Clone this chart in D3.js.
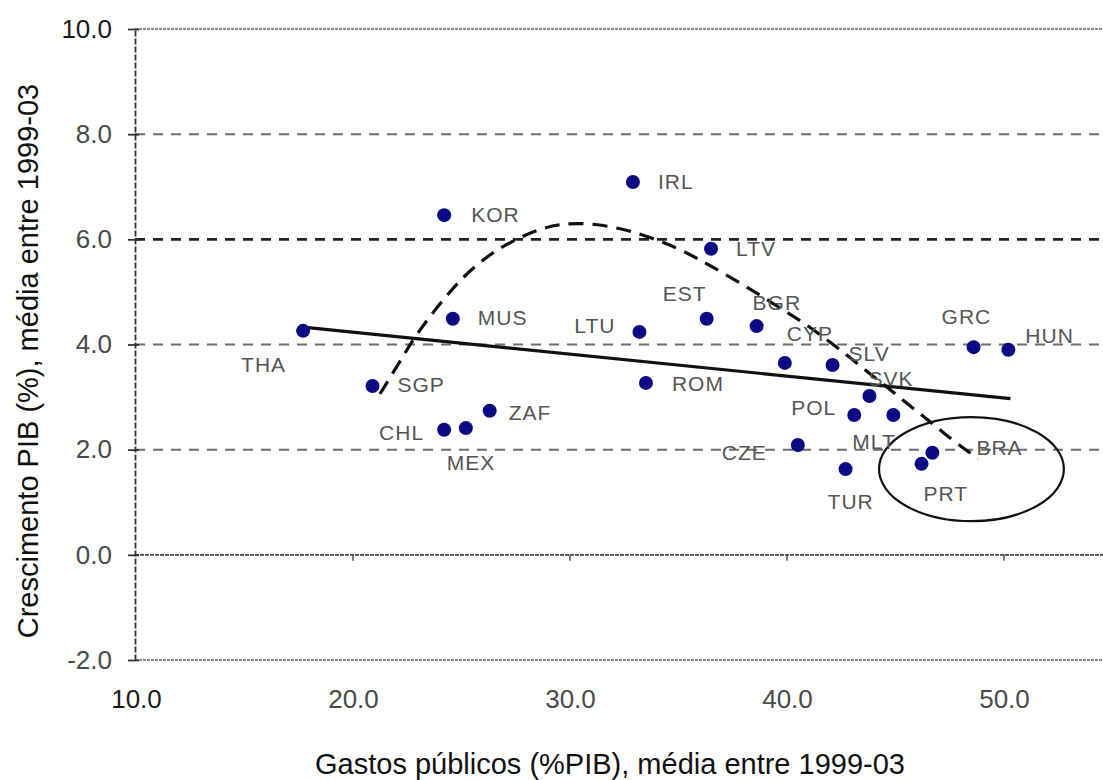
<!DOCTYPE html>
<html>
<head>
<meta charset="utf-8">
<script src="https://cdn.jsdelivr.net/npm/d3@7"></script>
<style>
  html, body { margin: 0; padding: 0; background: #ffffff; }
  svg { display: block; font-family: "Liberation Sans", Arial, sans-serif; }
</style>
</head>
<body>
<script>
// ---------------- DATA ----------------
const countries = ["THA","SGP","KOR","MUS","CHL","MEX","ZAF","IRL","LTU","ROM","EST","LTV","BGR","CYP","SLV","SVK","POL","MLT","CZE","TUR","PRT","BRA","GRC","HUN"];
const gastosPublicos = [17.7, 20.9, 24.2, 24.6, 24.2, 25.2, 26.3, 32.9, 33.2, 33.5, 36.3, 36.5, 38.6, 39.9, 42.1, 43.8, 43.1, 44.9, 40.5, 42.7, 46.2, 46.7, 48.6, 50.2];
const crescimentoPIB = [4.26, 3.21, 6.46, 4.49, 2.38, 2.41, 2.74, 7.09, 4.24, 3.27, 4.49, 5.82, 4.35, 3.65, 3.61, 3.02, 2.66, 2.66, 2.09, 1.63, 1.73, 1.94, 3.95, 3.90];

const xTicks = [10, 20, 30, 40, 50];
const yTicks = [-2, 0, 2, 4, 6, 8, 10];
const gridValues = [2, 4, 6, 8];

// linear trend (solid line)
const trendX = [17.7, 50.3];
const trendY = [4.33, 2.97];

// curved trend (dashed)
const curveX = [21.24, 22.07, 22.76, 23.46, 24.33, 25.16, 26.18, 27.24, 28.48, 29.54, 30.92, 32.44, 33.69, 34.93, 35.99, 37.05, 38.29, 39.35, 40.60, 41.52, 42.58, 43.50, 44.61, 45.67, 46.73, 47.65, 48.80];
const curveY = [3.06, 3.61, 4.09, 4.49, 4.94, 5.32, 5.68, 5.95, 6.18, 6.30, 6.31, 6.20, 6.04, 5.84, 5.61, 5.36, 5.06, 4.78, 4.46, 4.19, 3.86, 3.55, 3.19, 2.83, 2.49, 2.17, 1.83];

// highlight ellipse (centre and radii in data units)
const ellipseCenter = [48.5, 1.63];
const ellipseRadii = [4.26, 0.99];

const xTitle = "Gastos públicos (%PIB), média entre 1999-03";
const yTitle = "Crescimento PIB (%), média entre 1999-03";

// ---------------- LAYOUT ----------------
const W = 1103, H = 780;
const labelPos = {
  THA: [-62, 41, "start"], SGP: [25, 6, "start"], KOR: [27, 7, "start"], MUS: [25, 6, "start"],
  CHL: [-20, 10, "end"], MEX: [-19, 42, "start"], ZAF: [19, 9, "start"], IRL: [25, 7, "start"],
  LTU: [-24, 1, "end"], ROM: [26, 8, "start"], EST: [-44, -18, "start"], LTV: [25, 7, "start"],
  BGR: [-4, -16, "start"], CYP: [2, -22, "start"], SLV: [16, -4, "start"], SVK: [-1, -10, "start"],
  POL: [-18, 0, "end"], MLT: [-41, 34, "start"], CZE: [-31, 15, "end"], TUR: [-18, 40, "start"],
  PRT: [2, 37, "start"], BRA: [44, 2, "start"], GRC: [-32, -23, "start"], HUN: [17, -7, "start"]
};

const x = d3.scaleLinear().domain([10, 55]).range([136, 136 + 45 * 21.7]);
const y = d3.scaleLinear().domain([-2, 10]).range([660, 29]);
const axisX = 135;

const svg = d3.select("body").append("svg").attr("width", W).attr("height", H);

// frame lines top (10) and bottom (-2)
[10, -2].forEach(v => {
  svg.append("line").attr("x1", axisX).attr("x2", W).attr("y1", y(v)).attr("y2", y(v))
    .attr("stroke", "#8a8a8a").attr("stroke-width", 1.8).attr("stroke-dasharray", "3,1");
});

// dashed gridlines
svg.append("g").selectAll("line").data(gridValues).join("line")
  .attr("x1", axisX).attr("x2", W)
  .attr("y1", d => y(d)).attr("y2", d => y(d))
  .attr("stroke", d => d === 6 ? "#222" : "#6e6e6e")
  .attr("stroke-width", d => d === 6 ? 2.6 : 2)
  .attr("stroke-dasharray", "10,8");

// zero line (x axis crossing)
svg.append("line").attr("x1", axisX).attr("x2", W).attr("y1", y(0)).attr("y2", y(0))
  .attr("stroke", "#444").attr("stroke-width", 1.6).attr("stroke-dasharray", "4,1");
svg.append("g").selectAll("line").data(xTicks.filter(d => d > 10)).join("line")
  .attr("x1", d => x(d)).attr("x2", d => x(d)).attr("y1", y(0)).attr("y2", y(0) + 6)
  .attr("stroke", "#444").attr("stroke-width", 1.4);

// Y axis
const yAxis = svg.append("g").attr("transform", `translate(${axisX},0)`)
  .call(d3.axisLeft(y).tickValues(yTicks).tickFormat(d => d.toFixed(1)).tickSize(7).tickSizeOuter(0).tickPadding(16));
yAxis.select(".domain").attr("stroke", "#333").attr("stroke-width", 1.8).attr("stroke-dasharray", "6,2");
yAxis.selectAll(".tick line").attr("stroke", "#333").attr("stroke-width", 1.8).attr("x2", 4).attr("x1", -7);
yAxis.selectAll(".tick text").attr("font-size", 26).attr("fill", d => d === 10 ? "#1a1a1a" : "#4a4a4a")
  .attr("font-family", "Liberation Sans, Arial, sans-serif");

// X axis labels (bottom)
const xAxis = svg.append("g").attr("transform", `translate(0,${y(-2)})`)
  .call(d3.axisBottom(x).tickValues(xTicks).tickFormat(d => d.toFixed(1)).tickSize(0).tickPadding(30));
xAxis.select(".domain").remove();
xAxis.selectAll(".tick text").attr("font-size", 26).attr("fill", d => d === 10 ? "#1a1a1a" : "#4a4a4a")
  .attr("font-family", "Liberation Sans, Arial, sans-serif");

// axis titles
svg.append("text").attr("x", 610).attr("y", 774).attr("text-anchor", "middle")
  .attr("font-size", 29).attr("fill", "#111").text(xTitle);
svg.append("text").attr("transform", "translate(38,361) rotate(-90)").attr("text-anchor", "middle")
  .attr("font-size", 29).attr("fill", "#111").text(yTitle);

// linear trend
svg.append("line")
  .attr("x1", x(trendX[0])).attr("y1", y(trendY[0]))
  .attr("x2", x(trendX[1])).attr("y2", y(trendY[1]))
  .attr("stroke", "#111").attr("stroke-width", 3.2);

// dashed curve
const curvePts = curveX.map((v, i) => [v, curveY[i]]);
svg.append("path").datum(curvePts)
  .attr("d", d3.line().x(d => x(d[0])).y(d => y(d[1])).curve(d3.curveBasis))
  .attr("fill", "none").attr("stroke", "#111").attr("stroke-width", 3.2)
  .attr("stroke-dasharray", "15,9");

// ellipse
svg.append("ellipse")
  .attr("cx", x(ellipseCenter[0])).attr("cy", y(ellipseCenter[1]))
  .attr("rx", x(ellipseCenter[0] + ellipseRadii[0]) - x(ellipseCenter[0]))
  .attr("ry", y(ellipseCenter[1] - ellipseRadii[1]) - y(ellipseCenter[1]))
  .attr("fill", "none").attr("stroke", "#111").attr("stroke-width", 2.2);

// points
const pts = countries.map((c, i) => ({ c, gx: gastosPublicos[i], gy: crescimentoPIB[i] }));
svg.append("g").selectAll("circle").data(pts).join("circle")
  .attr("cx", d => x(d.gx)).attr("cy", d => y(d.gy)).attr("r", 7)
  .attr("fill", "#0a0a84");

// labels
svg.append("g").selectAll("text").data(pts).join("text")
  .attr("x", d => x(d.gx) + labelPos[d.c][0])
  .attr("y", d => y(d.gy) + labelPos[d.c][1])
  .attr("text-anchor", d => labelPos[d.c][2])
  .attr("font-size", 21).attr("letter-spacing", 1).attr("fill", "#555")
  .text(d => d.c);
</script>
</body>
</html>
